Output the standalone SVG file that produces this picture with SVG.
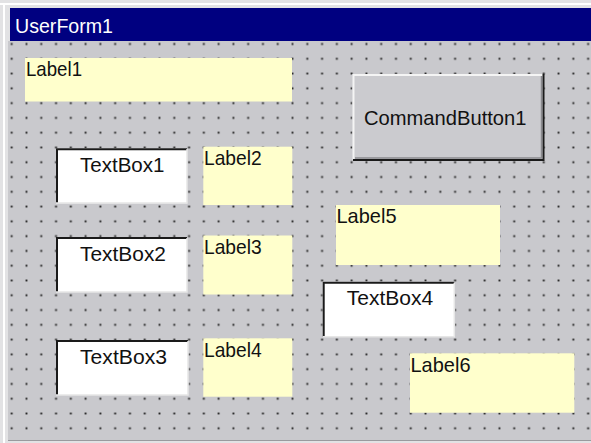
<svg xmlns="http://www.w3.org/2000/svg" width="591" height="443" viewBox="0 0 591 443">
<defs>
<pattern id="grid" patternUnits="userSpaceOnUse" x="4.31" y="36.61" width="14.78" height="14.78">
<rect x="6.44" y="6.44" width="1.9" height="1.9" fill="#262626"/>
</pattern>
<style>
.t{font-family:"Liberation Sans",Arial,sans-serif;font-size:21px;fill:#111}
.lbl{fill:#ffffcc}
.tb{fill:#ffffff}
.dk{stroke:#1a1a1a;stroke-width:2;fill:none}
.lt{stroke:#f4f4f4;stroke-width:2;fill:none}
</style>
</defs>
<rect x="0" y="0" width="591" height="443" fill="#e2e2e4"/>
<line x1="0" y1="4" x2="591" y2="4" stroke="#ffffff" stroke-width="2"/>
<line x1="4" y1="4" x2="4" y2="443" stroke="#ffffff" stroke-width="2"/>
<rect x="8" y="41" width="583" height="399" fill="#c9c9cd"/>
<rect x="8" y="41" width="583" height="399" fill="url(#grid)"/>
<line x1="8" y1="440.5" x2="591" y2="440.5" stroke="#9a9a9e" stroke-width="1"/>
<g id="titlebar">
<rect x="10" y="8" width="581" height="33" fill="#000080"/>
<text class="t" x="15" y="32.5" style="fill:#ffffff" textLength="98" lengthAdjust="spacingAndGlyphs">UserForm1</text>
</g>
<g id="Label1">
<rect class="lbl" x="25" y="58" width="267" height="43.5"/>
<text class="t" x="26" y="76" textLength="56" lengthAdjust="spacingAndGlyphs">Label1</text>
</g>
<g id="CommandButton1">
<rect x="352.5" y="74" width="191.5" height="86.5" fill="#cbcbcf"/>
<polyline class="lt" points="353.5,159.5 353.5,75 543,75"/>
<polyline class="dk" points="353,160 543.5,160 543.5,74"/>
<polyline points="355,158 541.5,158 541.5,76" stroke="#8a8a8e" stroke-width="1.5" fill="none"/>
<text class="t" x="364" y="125" textLength="162.5" lengthAdjust="spacingAndGlyphs">CommandButton1</text>
</g>
<g id="TextBox1">
<rect class="tb" x="56" y="148.3" width="131" height="55"/>
<polyline class="dk" points="57,203 57,149.3 187,149.3"/>
<polyline points="56,203 187,203 187,149" stroke="#e6e6e6" stroke-width="1.5" fill="none"/>
<text class="t" x="80" y="172" textLength="84.5" lengthAdjust="spacingAndGlyphs">TextBox1</text>
</g>
<g id="Label2">
<rect class="lbl" x="203.3" y="146.7" width="89" height="58.3"/>
<text class="t" x="204" y="165" textLength="57.7" lengthAdjust="spacingAndGlyphs">Label2</text>
</g>
<g id="TextBox2">
<rect class="tb" x="56" y="237" width="131" height="55"/>
<polyline class="dk" points="57,292 57,238 187,238"/>
<polyline points="56,292 187,292 187,238" stroke="#e6e6e6" stroke-width="1.5" fill="none"/>
<text class="t" x="80" y="261" textLength="86" lengthAdjust="spacingAndGlyphs">TextBox2</text>
</g>
<g id="Label3">
<rect class="lbl" x="203.3" y="235.5" width="89" height="59"/>
<text class="t" x="204" y="254" textLength="57.7" lengthAdjust="spacingAndGlyphs">Label3</text>
</g>
<g id="TextBox3">
<rect class="tb" x="56" y="340" width="132" height="55"/>
<polyline class="dk" points="57,395 57,341 188,341"/>
<polyline points="56,395 188,395 188,341" stroke="#e6e6e6" stroke-width="1.5" fill="none"/>
<text class="t" x="80" y="364" textLength="87" lengthAdjust="spacingAndGlyphs">TextBox3</text>
</g>
<g id="Label4">
<rect class="lbl" x="203.3" y="338.3" width="89" height="58.4"/>
<text class="t" x="204" y="356.7" textLength="57.7" lengthAdjust="spacingAndGlyphs">Label4</text>
</g>
<g id="Label5">
<rect class="lbl" x="336" y="205" width="164" height="60"/>
<text class="t" x="336.5" y="223.3" textLength="60" lengthAdjust="spacingAndGlyphs">Label5</text>
</g>
<g id="TextBox4">
<rect class="tb" x="322.7" y="281.7" width="131.6" height="55"/>
<polyline class="dk" points="323.7,336.7 323.7,282.7 454.3,282.7"/>
<polyline points="322.7,336.7 454.3,336.7 454.3,282.7" stroke="#e6e6e6" stroke-width="1.5" fill="none"/>
<text class="t" x="346.7" y="305" textLength="86.6" lengthAdjust="spacingAndGlyphs">TextBox4</text>
</g>
<g id="Label6">
<rect class="lbl" x="410" y="353.3" width="164.3" height="59.4"/>
<text class="t" x="410.5" y="371.7" textLength="60" lengthAdjust="spacingAndGlyphs">Label6</text>
</g>
<g id="connectors"></g>
</svg>
